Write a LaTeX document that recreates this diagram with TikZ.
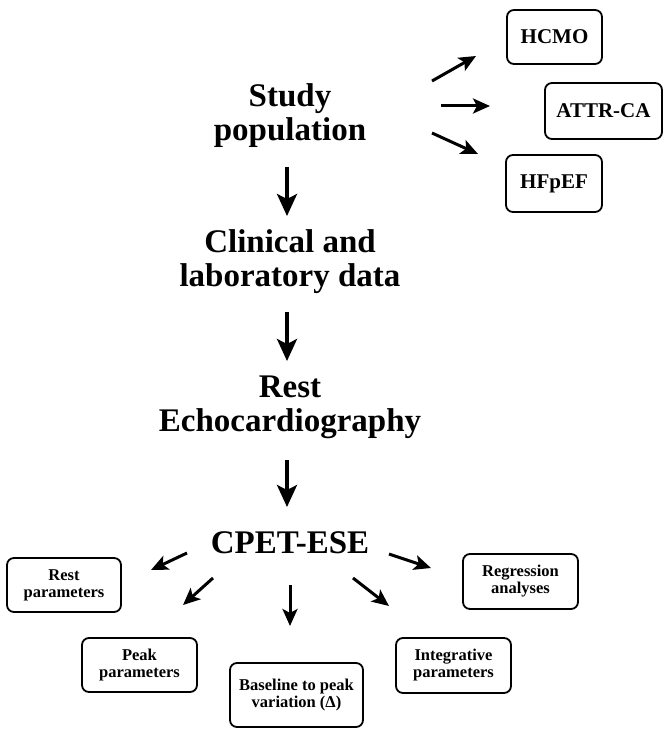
\documentclass[tikz,border=0pt]{standalone}
\usepackage{fontspec}
\setmainfont{Liberation Serif}
\usetikzlibrary{arrows.meta}
\tikzset{
 big/.style={font=\bfseries\fontsize{33bp}{34bp}\selectfont, align=center, inner sep=0pt},
 box/.style={draw, rounded corners=7bp, line width=1.8bp, align=center, inner sep=0pt},
 boxsm/.style={box, font=\bfseries\fontsize{16.5bp}{17bp}\selectfont},
 boxbig/.style={box, font=\bfseries\fontsize{21bp}{22bp}\selectfont},
 arr/.style={line width=3bp, -{Stealth[length=17bp,width=15bp,inset=4bp]}},
 arrbig/.style={line width=3.4bp, -{Stealth[length=22bp,width=20bp,inset=5bp]}},
}
\begin{document}
\begin{tikzpicture}[x=1bp,y=-1bp]
\useasboundingbox[fill=white] (0,0) rectangle (671,735);
% main column
\node[big] (study) at (290,116) {Study\\population};
\node[big] (clin) at (290,262) {Clinical and\\laboratory data};
\node[big] (echo) at (290,407) {Rest\\Echocardiography};
\node[big] (cpet) at (290,543) {CPET-ESE};
% top-right boxes
\node[boxbig, minimum width=95bp, minimum height=54bp] (hcmo) at (554.5,37) {HCMO};
\node[boxbig, minimum width=117bp, minimum height=56bp] (attr) at (603.5,111) {ATTR-CA};
\node[boxbig, minimum width=96bp, minimum height=57bp] (hfpef) at (554,183.5) {HFpEF};
% bottom boxes
\node[boxsm, minimum width=114bp, minimum height=54bp] (restp) at (64,585) {Rest\\parameters};
\node[boxsm, minimum width=115bp, minimum height=54bp] (peakp) at (139.5,665) {Peak\\parameters};
\node[boxsm, minimum width=133bp, minimum height=64bp] (base) at (296.5,695) {Baseline to peak\\variation (Δ)};
\node[boxsm, minimum width=115bp, minimum height=55bp] (integ) at (453.5,665.5) {Integrative\\parameters};
\node[boxsm, minimum width=115bp, minimum height=55bp] (regr) at (520.5,581.5) {Regression\\analyses};
% arrow endpoints
\coordinate (a1s) at (287,167); \coordinate (a1e) at (287,216);
\coordinate (a2s) at (287,312); \coordinate (a2e) at (287,361);
\coordinate (a3s) at (287,460); \coordinate (a3e) at (287,507);
\coordinate (t1s) at (432,81);  \coordinate (t1e) at (476,56);
\coordinate (t2s) at (441,106); \coordinate (t2e) at (490,106);
\coordinate (t3s) at (432,133); \coordinate (t3e) at (478,154);
\coordinate (b1s) at (187,553); \coordinate (b1e) at (151,570);
\coordinate (b2s) at (213,578); \coordinate (b2e) at (183,605);
\coordinate (b3s) at (290,585); \coordinate (b3e) at (290,626);
\coordinate (b4s) at (353,578); \coordinate (b4e) at (389,606);
\coordinate (b5s) at (389,554); \coordinate (b5e) at (431,568);
\draw[arrbig] (a1s) -- (a1e);
\draw[arrbig] (a2s) -- (a2e);
\draw[arrbig] (a3s) -- (a3e);
\draw[arr] (t1s) -- (t1e);
\draw[arr] (t2s) -- (t2e);
\draw[arr] (t3s) -- (t3e);
\draw[arr] (b1s) -- (b1e);
\draw[arr] (b2s) -- (b2e);
\draw[arr] (b3s) -- (b3e);
\draw[arr] (b4s) -- (b4e);
\draw[arr] (b5s) -- (b5e);
\end{tikzpicture}
\end{document}
